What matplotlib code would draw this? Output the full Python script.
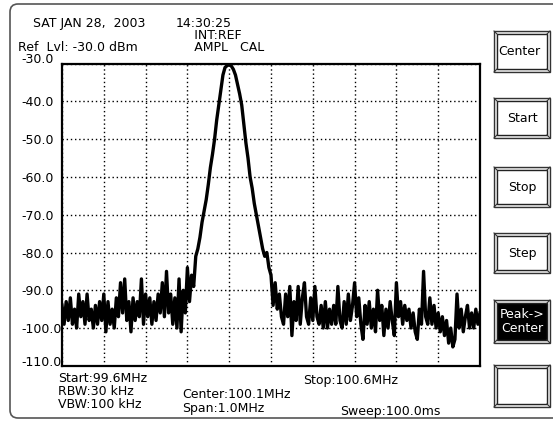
import numpy as np
import matplotlib
matplotlib.use("Agg")
import matplotlib.pyplot as plt
from matplotlib import transforms
from matplotlib.patches import FancyBboxPatch, Rectangle

# ---------------- data ----------------
freq_start_mhz = 99.6
freq_stop_mhz = 100.6
level_dbm = [
    -94, -99, -93, -98, -92, -99, -95, -100, -91, -97,
    -93, -99, -91, -98, -95, -100, -94, -99, -93, -98,
    -91, -101, -93, -99, -95, -100, -92, -97, -88, -96,
    -87, -98, -93, -101, -92, -98, -93, -97, -87, -99,
    -91, -97, -92, -99, -93, -98, -91, -96, -88, -97,
    -85, -96, -91, -99, -92, -100, -87, -101, -90, -96,
    -84, -93, -86, -89, -81, -79, -76, -72, -69, -66,
    -62, -57.5, -54, -50, -45, -41, -37, -33, -31, -30.5,
    -30.3, -30.6, -31.5, -33, -35.5, -38, -41, -46, -51, -55,
    -60, -63, -67, -70, -73, -76, -79, -81, -80, -84,
    -86, -94, -88, -95, -91, -97, -99, -91, -97, -89,
    -102, -93, -98, -89, -99, -92, -88, -97, -99, -92,
    -98, -89, -97, -99, -94, -100, -93, -100, -95, -99,
    -94, -99, -89, -98, -100, -93, -99, -91, -98, -94,
    -88, -97, -92, -99, -103, -94, -99, -93, -100, -95,
    -101, -90, -98, -94, -102, -95, -100, -93, -98, -102,
    -88, -97, -93, -99, -94, -98, -95, -100, -96, -101,
    -103, -95, -99, -85, -97, -99, -92, -99, -94, -100,
    -96, -101, -97, -102, -98, -104, -100, -105, -103, -91,
    -100, -95, -101, -97, -94, -100, -96, -100, -95, -99,
    -96,
]
ytick_values = [-30, -40, -50, -60, -70, -80, -90, -100, -110]
ytick_labels = ["-30.0", "-40.0", "-50.0", "-60.0", "-70.0", "-80.0",
                "-90.0", "-100.0", "-110.0"]
xgrid_mhz = [99.6, 99.7, 99.8, 99.9, 100.0, 100.1, 100.2, 100.3, 100.4, 100.5, 100.6]
button_labels = ["Center", "Start", "Stop", "Step", "Peak->\nCenter", ""]
header_texts = [("SAT JAN 28,  2003", 33, 27), ("Ref  Lvl: -30.0 dBm", 18, 51)]
indent = "\u2002   "
status_text = "14:30:25\n" + indent + "INT:REF\n" + indent + "AMPL   CAL"
footer_texts = [("Start:99.6MHz", 58, 382), ("RBW:30 kHz", 58, 395),
                ("VBW:100 kHz", 58, 408), ("Center:100.1MHz", 182, 398),
                ("Span:1.0MHz", 182, 412), ("Stop:100.6MHz", 303, 384),
                ("Sweep:100.0ms", 340, 415)]

# ---------------- figure ----------------
W, H = 553, 423
FS = 9
plt.rcParams['font.family'] = ['DejaVu Sans']
fig = plt.figure(figsize=(W / 100, H / 100), dpi=100)
fig.patch.set_facecolor('white')

bg = fig.add_axes([0, 0, 1, 1])
bg.set_xlim(0, W)
bg.set_ylim(H, 0)
bg.axis('off')

# outer rounded frame
frame = FancyBboxPatch((10, 4), 570, 414, boxstyle="round,pad=0,rounding_size=8",
                       fc='white', ec='#555555', lw=1.2, clip_on=False)
bg.add_patch(frame)

# buttons
btn_tops = [31, 98, 167, 233, 300, 365]
btn_bots = [72, 138, 207, 273, 343, 407]
bx0, bx1 = 494, 550
for lab, t, b in zip(button_labels, btn_tops, btn_bots):
    inset = 3
    dark = lab.startswith("Peak")
    bg.add_patch(Rectangle((bx0, t), bx1 - bx0, b - t, fc='#eeeeee', ec='#333333', lw=1.0))
    bg.add_patch(Rectangle((bx0 + inset, t + inset), bx1 - bx0 - 2 * inset, b - t - 2 * inset,
                           fc='black' if dark else 'white', ec='#222222', lw=1.0))
    for (cx, cy, dx, dy) in [(bx0, t, 1, 1), (bx1, t, -1, 1), (bx0, b, 1, -1), (bx1, b, -1, -1)]:
        bg.plot([cx, cx + dx * inset], [cy, cy + dy * inset], color='#333333', lw=0.8)
    if lab:
        if lab == "Center":
            bg.text(bx0 + 4, (t + b) / 2, lab, fontsize=FS, ha='left', va='center',
                    color='black')
        else:
            bg.text((bx0 + bx1) / 2, (t + b) / 2, lab, fontsize=FS, ha='center',
                    va='center', color='white' if dark else 'black',
                    linespacing=1.15, multialignment='center')

for s, x, y in header_texts + footer_texts:
    bg.text(x, y, s, fontsize=FS, ha='left', va='baseline', color='black')
bg.text(176, 51, status_text, fontsize=FS, ha='left', va='baseline', color='black',
        linespacing=0.9, multialignment='left')

# ---------------- spectrum axes ----------------
top_px, bot_px, left_px, right_px = 63.7, 365.8, 62, 480
ax = fig.add_axes([left_px / W, 1 - bot_px / H, (right_px - left_px) / W, (bot_px - top_px) / H])
freqs = np.linspace(freq_start_mhz, freq_stop_mhz, len(level_dbm))
ax.plot(freqs, level_dbm, color='black', lw=2.4, zorder=3)
ax.set_xlim(freq_start_mhz, freq_stop_mhz)
ax.set_ylim(-110, -30)
ax.set_xticks(xgrid_mhz)
ax.set_yticks(ytick_values)
ax.grid(True, color='black', linestyle=(0, (1, 2)), lw=1.0)
ax.tick_params(length=0, labelbottom=False, labelleft=False)
for sp in ax.spines.values():
    sp.set_linewidth(1.6)
    sp.set_color('black')
    sp.set_zorder(4)

trans = transforms.blended_transform_factory(bg.transData, ax.transData)
for v, lab in zip(ytick_values, ytick_labels):
    if v == -30:
        fig.text(21, v + 0.1, lab, transform=trans, fontsize=FS, ha='left', va='baseline')
    elif v == -110:
        fig.text(21, v, lab, transform=trans, fontsize=FS, ha='left', va='baseline')
    else:
        fig.text(21, v, lab, transform=trans, fontsize=FS, ha='left', va='center_baseline')

fig.savefig("out.png", dpi=100, facecolor='white')
